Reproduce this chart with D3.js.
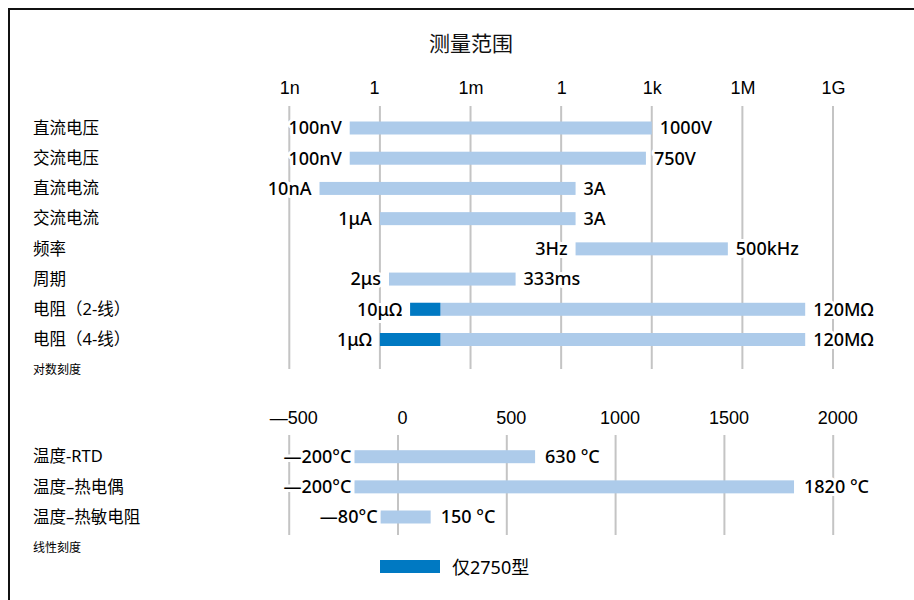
<!DOCTYPE html>
<html><head><meta charset="utf-8">
<script src="https://cdn.jsdelivr.net/npm/d3@7"></script>
<style>
html,body{margin:0;padding:0;background:#fff;}
svg{display:block;font-family:"Noto Sans","Noto Sans CJK SC",sans-serif;}
</style></head>
<body><svg id="c" width="914" height="600"></svg>
<script>
// ---- data ----
const logCategories = ["直流电压","交流电压","直流电流","交流电流","频率","周期","电阻（2-线）","电阻（4-线）"];
const logMin = [1e-7, 1e-7, 1e-8, 1e-6, 3, 2e-6, 1e-5, 1e-6];
const logMax = [1000, 640, 3, 3, 3.3e5, 0.031, 1.2e8, 1.2e8];
const logDarkMin = [null, null, null, null, null, null, 1e-5, 1e-6];
const logDarkMax = [null, null, null, null, null, null, 1e-4, 1e-4];
const logMinLabels = ["100nV","100nV","10nA","1μA","3Hz","2μs","10μΩ","1μΩ"];
const logMaxLabels = ["1000V","750V","3A","3A","500kHz","333ms","120MΩ","120MΩ"];
const logTicks = [1e-9, 1e-6, 1e-3, 1, 1e3, 1e6, 1e9];
const logTickLabels = ["1n","1","1m","1","1k","1M","1G"];

const linCategories = ["温度-RTD","温度–热电偶","温度–热敏电阻"];
const linMin = [-200, -200, -80];
const linMax = [630, 1820, 150];
const linMinLabels = ["—200°C","—200°C","—80°C"];
const linMaxLabels = ["630 °C","1820 °C","150 °C"];
const linTicks = [-500, 0, 500, 1000, 1500, 2000];
const linTickLabels = ["—500","0","500","1000","1500","2000"];

const titleText = "测量范围";
const logNote = "对数刻度";
const linNote = "线性刻度";
const legendText = "仅2750型";

// ---- style ----
const LIGHT = "#adcbea", DARK = "#0079c2", GRID = "#c4c4c4", INK = "#000";
const svg = d3.select("#c");

svg.append("rect").attr("x",9).attr("y",9).attr("width",940).attr("height",620)
  .attr("fill","none").attr("stroke","#111").attr("stroke-width",2);

svg.append("text").attr("x",471).attr("y",43).attr("text-anchor","middle")
  .attr("dominant-baseline","central").attr("font-size",21).attr("fill","#111").text(titleText);

const xLog = d3.scaleLog().domain([1e-9, 1e9]).range([289.3, 833]);
const yLog = d3.scalePoint().domain(logCategories).range([128, 339.5]);
const xLin = d3.scaleLinear().domain([-500, 2000]).range([289.2, 833.2]);
const yLin = d3.scalePoint().domain(linCategories).range([456.7, 517]);
const BH = 13;

function halo(sel){ return sel.attr("stroke","#fff").attr("stroke-width",6).attr("paint-order","stroke").attr("stroke-linejoin","round"); }

// grid top
const gTop = svg.append("g");
gTop.selectAll("line").data(logTicks).join("line")
  .attr("x1",d=>xLog(d)).attr("x2",d=>xLog(d)).attr("y1",106).attr("y2",369)
  .attr("stroke",GRID).attr("stroke-width",2);
const axTop = svg.append("g").attr("transform","translate(0,88)")
  .call(d3.axisTop(xLog).tickValues(logTicks).tickSize(0).tickFormat((d,i)=>logTickLabels[i]));
axTop.select(".domain").remove();
axTop.selectAll("text").attr("font-size",18).attr("fill",INK).attr("font-weight",500)
  .attr("font-family",null).attr("dy","0.35em").attr("y",0)
  .attr("dx",(d,i)=>i===1?-6:0);

// grid bottom
const gBot = svg.append("g");
gBot.selectAll("line").data(linTicks).join("line")
  .attr("x1",d=>xLin(d)).attr("x2",d=>xLin(d)).attr("y1",435).attr("y2",535)
  .attr("stroke",GRID).attr("stroke-width",2);
const axBot = svg.append("g").attr("transform","translate(4,418)")
  .call(d3.axisTop(xLin).tickValues(linTicks).tickSize(0).tickFormat((d,i)=>linTickLabels[i]));
axBot.select(".domain").remove();
axBot.selectAll("text").attr("font-size",18).attr("fill",INK).attr("font-weight",500)
  .attr("font-family",null).attr("dy","0.35em").attr("y",0);

// category labels
svg.append("g").selectAll("text").data(logCategories).join("text")
  .attr("x",33).attr("y",d=>yLog(d)).attr("dy","0.35em").attr("font-size",16.5).attr("fill",INK).text(d=>d);
svg.append("g").selectAll("text").data(linCategories).join("text")
  .attr("x",33).attr("y",d=>yLin(d)).attr("dy","0.35em").attr("font-size",16.5).attr("fill",INK).text(d=>d);
svg.append("text").attr("x",33).attr("y",370).attr("dy","0.35em").attr("font-size",12).attr("fill",INK).text(logNote);
svg.append("text").attr("x",33).attr("y",548).attr("dy","0.35em").attr("font-size",12).attr("fill",INK).text(linNote);

// log bars
const idx = logCategories.map((_,i)=>i);
const gLB = svg.append("g");
gLB.selectAll("rect.l").data(idx).join("rect").attr("class","l")
  .attr("x",i=>xLog(logMin[i])).attr("width",i=>xLog(logMax[i])-xLog(logMin[i]))
  .attr("y",i=>yLog(logCategories[i])-BH/2).attr("height",BH).attr("fill",LIGHT);
gLB.selectAll("rect.d").data(idx.filter(i=>logDarkMin[i]!=null)).join("rect").attr("class","d")
  .attr("x",i=>xLog(logDarkMin[i])).attr("width",i=>xLog(logDarkMax[i])-xLog(logDarkMin[i]))
  .attr("y",i=>yLog(logCategories[i])-BH/2).attr("height",BH).attr("fill",DARK);
halo(gLB.selectAll("text.mn").data(idx).join("text").attr("class","mn")
  .attr("x",i=>xLog(logMin[i])-8).attr("y",i=>yLog(logCategories[i])).attr("dy","0.35em")
  .attr("text-anchor","end").attr("font-size",18).attr("font-weight",500).attr("fill",INK).text(i=>logMinLabels[i]));
halo(gLB.selectAll("text.mx").data(idx).join("text").attr("class","mx")
  .attr("x",i=>xLog(logMax[i])+8).attr("y",i=>yLog(logCategories[i])).attr("dy","0.35em")
  .attr("font-size",18).attr("font-weight",500).attr("fill",INK).text(i=>logMaxLabels[i]));

// linear bars
const idx2 = linCategories.map((_,i)=>i);
const gNB = svg.append("g");
gNB.selectAll("rect").data(idx2).join("rect")
  .attr("x",i=>xLin(linMin[i])).attr("width",i=>xLin(linMax[i])-xLin(linMin[i]))
  .attr("y",i=>yLin(linCategories[i])-BH/2).attr("height",BH).attr("fill",LIGHT);
halo(gNB.selectAll("text.mn").data(idx2).join("text").attr("class","mn")
  .attr("x",i=>xLin(linMin[i])-3).attr("y",i=>yLin(linCategories[i])).attr("dy","0.35em")
  .attr("text-anchor","end").attr("font-size",18).attr("font-weight",500).attr("fill",INK).text(i=>linMinLabels[i]));
halo(gNB.selectAll("text.mx").data(idx2).join("text").attr("class","mx")
  .attr("x",i=>xLin(linMax[i])+10).attr("y",i=>yLin(linCategories[i])).attr("dy","0.35em")
  .attr("font-size",18).attr("font-weight",500).attr("fill",INK).text(i=>linMaxLabels[i]));

// legend
svg.append("rect").attr("x",380).attr("y",560).attr("width",60).attr("height",13).attr("fill",DARK);
svg.append("text").attr("x",452).attr("y",568).attr("dy","0.35em").attr("font-size",18).attr("fill",INK).text(legendText);
</script></body></html>
